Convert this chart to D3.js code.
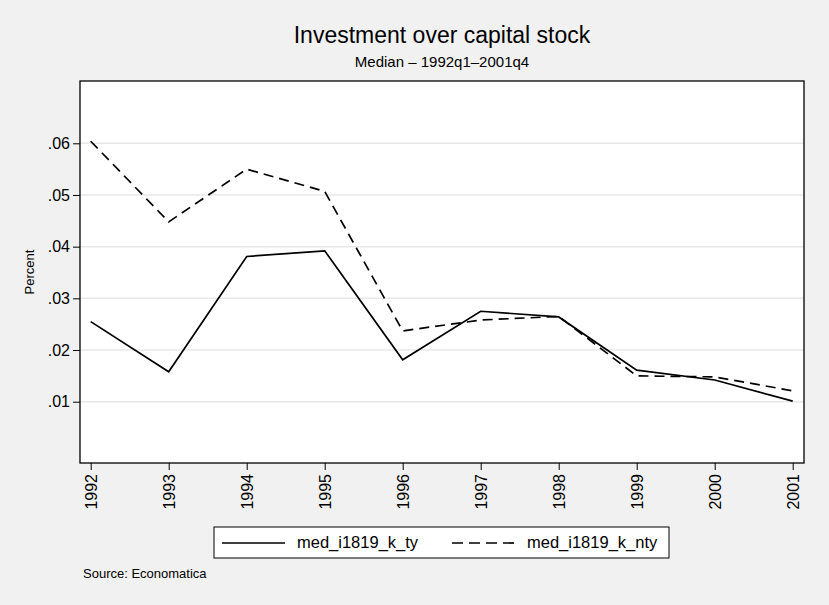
<!DOCTYPE html>
<html>
<head>
<meta charset="utf-8">
<script src="https://cdn.jsdelivr.net/npm/d3@7"></script>
<style>
  body { margin: 0; background: #f1f1f1; }
  svg { display: block; font-family: "Liberation Sans", Arial, Helvetica, sans-serif; }
</style>
</head>
<body>
<div class="graph"></div>
<script>
let years = [1992, 1993, 1994, 1995, 1996, 1997, 1998, 1999, 2000, 2001];
let medTy = [0.0255, 0.0158, 0.0381, 0.0392, 0.0181, 0.0275, 0.0264, 0.0161, 0.0142, 0.0101];
let medNty = [0.0604, 0.0448, 0.0550, 0.0507, 0.0237, 0.0258, 0.0265, 0.0150, 0.0148, 0.0121];
let yTicks = [0.01, 0.02, 0.03, 0.04, 0.05, 0.06];
let seriesNames = ["med_i1819_k_ty", "med_i1819_k_nty"];

let w = 829;
let h = 605;
let plot = { left: 80, right: 804, top: 81, bottom: 463 };

let svgvar = d3
  .select(".graph")
  .append("svg")
  .attr("width", w)
  .attr("height", h);

svgvar.append("rect").attr("width", w).attr("height", h).style("fill", "#f1f1f1");

// titles
svgvar
  .append("text")
  .attr("x", 442)
  .attr("y", 43)
  .attr("text-anchor", "middle")
  .style("font-size", "23px")
  .text("Investment over capital stock");
svgvar
  .append("text")
  .attr("x", 442)
  .attr("y", 67)
  .attr("text-anchor", "middle")
  .style("font-size", "15px")
  .text("Median \u2013 1992q1\u20132001q4");

// plot region
svgvar
  .append("rect")
  .attr("x", plot.left)
  .attr("y", plot.top)
  .attr("width", plot.right - plot.left)
  .attr("height", plot.bottom - plot.top)
  .style("fill", "#ffffff");

let xScale = d3.scaleLinear().domain([1992, 2001]).range([90.7, 792.7]);
let yScale = d3.scaleLinear().domain([0.01, 0.06]).range([401.7, 143.3]);

// gridlines
svgvar
  .append("g")
  .selectAll("line")
  .data(yTicks)
  .enter()
  .append("line")
  .attr("x1", plot.left)
  .attr("x2", plot.right)
  .attr("y1", function (d) { return yScale(d); })
  .attr("y2", function (d) { return yScale(d); })
  .style("stroke", "#e8e8e8")
  .style("stroke-width", 1.5);

let fmt = function (d) { return d3.format(".2f")(d).replace(/^0/, ""); };

let yAxis = d3.axisLeft(yScale).tickValues(yTicks).tickFormat(fmt).tickSize(7).tickPadding(3);
let yg = svgvar
  .append("g")
  .attr("transform", "translate(" + plot.left + ",0)")
  .call(yAxis);
yg.select(".domain").remove();
yg.selectAll("text").style("font-size", "16px").style("fill", "#000");
yg.selectAll("line").style("stroke", "#000");

let xAxis = d3.axisBottom(xScale).tickValues(years).tickFormat(d3.format("d")).tickSize(7);
let xg = svgvar
  .append("g")
  .attr("transform", "translate(0," + plot.bottom + ")")
  .call(xAxis);
xg.select(".domain").remove();
xg.selectAll("line").style("stroke", "#000");
xg.selectAll("text")
  .attr("transform", "rotate(-90)")
  .attr("x", -11)
  .attr("y", 0)
  .attr("dy", ".35em")
  .attr("text-anchor", "end")
  .style("font-size", "16px")
  .style("fill", "#000");

// y axis title
svgvar
  .append("text")
  .attr("transform", "translate(34," + (plot.top + plot.bottom) / 2 + ") rotate(-90)")
  .attr("text-anchor", "middle")
  .style("font-size", "13px")
  .text("Percent");

// lines
let line = function (vals) {
  return d3
    .line()
    .x(function (d, i) { return xScale(years[i]); })
    .y(function (d) { return yScale(d); })(vals);
};

svgvar
  .append("path")
  .attr("d", line(medTy))
  .style("fill", "none")
  .style("stroke", "#000")
  .style("stroke-width", 1.7);

svgvar
  .append("path")
  .attr("d", line(medNty))
  .style("fill", "none")
  .style("stroke", "#000")
  .style("stroke-width", 1.7)
  .style("stroke-dasharray", "10,6");

// plot border
svgvar
  .append("rect")
  .attr("x", plot.left)
  .attr("y", plot.top)
  .attr("width", plot.right - plot.left)
  .attr("height", plot.bottom - plot.top)
  .style("fill", "none")
  .style("stroke", "#000")
  .style("stroke-width", 1.3);

// legend
let lg = svgvar.append("g");
lg.append("rect")
  .attr("x", 214)
  .attr("y", 527)
  .attr("width", 455)
  .attr("height", 31)
  .style("fill", "#fff")
  .style("stroke", "#000")
  .style("stroke-width", 1);

let legendItems = [
  { x1: 222, x2: 285, tx: 297, dash: null },
  { x1: 452, x2: 516, tx: 527, dash: "11,6" }
];
legendItems.forEach(function (it, i) {
  lg.append("line")
    .attr("x1", it.x1)
    .attr("x2", it.x2)
    .attr("y1", 543)
    .attr("y2", 543)
    .style("stroke", "#000")
    .style("stroke-width", 1.7)
    .style("stroke-dasharray", it.dash);
  lg.append("text")
    .attr("x", it.tx)
    .attr("y", 548)
    .style("font-size", "16.5px")
    .text(seriesNames[i]);
});

svgvar
  .append("text")
  .attr("x", 83)
  .attr("y", 578)
  .style("font-size", "13px")
  .text("Source: Economatica");
</script>
</body>
</html>
